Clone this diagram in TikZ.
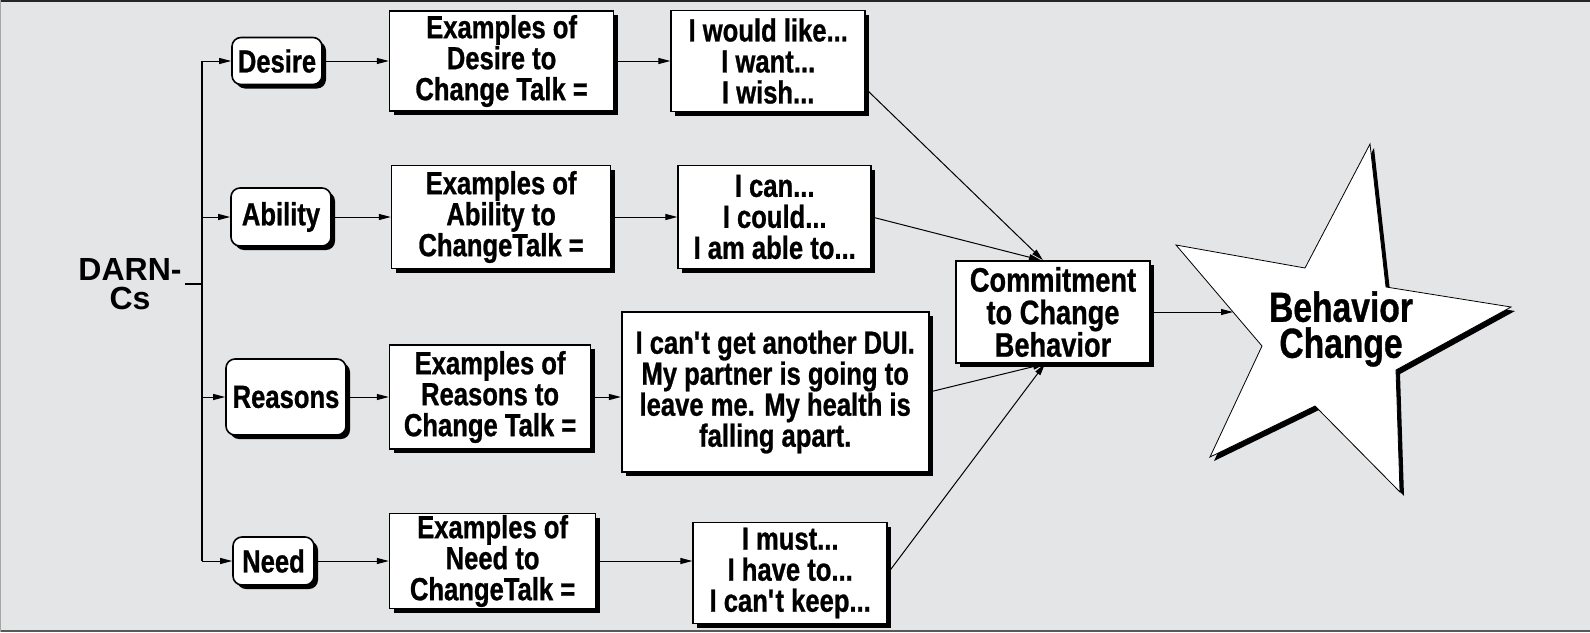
\documentclass[tikz,border=0pt]{standalone}
\usepackage{fontspec}
\setmainfont{Liberation Sans}[FakeStretch=0.8,BoldFeatures={FakeBold=0.8}]
\newfontfamily\darnfont{Liberation Sans}
\usetikzlibrary{positioning,shadows,arrows.meta}
\definecolor{panel}{HTML}{E4E5E7}
\tikzset{
  card/.style={rectangle,draw,line width=1.6pt,fill=white,align=center,inner sep=0pt,
    font=\fontsize{32}{31}\selectfont\bfseries,
    drop shadow={shadow xshift=4pt,shadow yshift=-4pt,fill=black,opacity=1}},
  kind/.style={card,rounded corners=9pt},
  link/.style={-{Triangle[length=12pt,width=6pt]},line width=1pt},
}

\begin{document}
\begin{tikzpicture}[x=1pt,y=-1pt]
      % panel
      \fill[panel] (0,0) rectangle (1590,632);
      \useasboundingbox (0,0) rectangle (1590,632);
      \draw[line width=2.5pt,black!85] (0,1.2) -- (1590,1.2);
      \draw[line width=2pt,black!65] (0,631) -- (1590,631);
      \draw[line width=1pt,black!35] (0.5,0) -- (0.5,632);
      % DARN-Cs
      \node[font=\darnfont\fontsize{32}{29}\selectfont\bfseries,align=center] (darn) at (130,284) {DARN-\\Cs};
      \coordinate (fork) at (202,289);
      % Desire
      \node[kind,minimum width=90pt,minimum height=47pt] (desire) at (277,61) {Desire};
      \node[card,right=66pt of desire,minimum width=224pt,minimum height=100pt] (exdesire) {Examples of\\Desire to\\Change Talk =};
      \node[card,right=56pt of exdesire,minimum width=194pt,minimum height=101pt] (saydesire) {I would like...\\I want...\\I wish...};
      % Ability
      \node[kind,minimum width=100pt,minimum height=58pt] (ability) at (281,217) {Ability};
      \node[card,right=59pt of ability,minimum width=219pt,minimum height=103pt] (exability) {Examples of\\Ability to\\ChangeTalk =};
      \node[card,right=66pt of exability,minimum width=193pt,minimum height=103pt] (sayability) {I can...\\I could...\\I am able to...};
      % Reasons
      \node[kind,minimum width=120pt,minimum height=76pt] (reasons) at (286,397) {Reasons};
      \node[card,right=42pt of reasons,minimum width=201pt,minimum height=104pt] (exreasons) {Examples of\\Reasons to\\Change Talk =};
      \node[card,right=29.5pt of exreasons,yshift=5pt,minimum width=307pt,minimum height=160pt] (sayreasons) {I can\textquotesingle t get another DUI.\\My partner is going to\\leave me. My health is\\falling apart.};
      % Need
      \node[kind,minimum width=81pt,minimum height=48pt] (need) at (273.5,561) {Need};
      \node[card,right=74pt of need,minimum width=206pt,minimum height=95pt] (exneed) {Examples of\\Need to\\ChangeTalk =};
      \node[card,right=96pt of exneed,yshift=-12pt,minimum width=194pt,minimum height=101pt] (sayneed) {I must...\\I have to...\\I can\textquotesingle t keep...};
      % Commitment
      \node[card,minimum width=194pt,minimum height=102pt,font=\fontsize{34}{32.5}\selectfont\bfseries] (commit) at (1053,312) {Commitment\\to Change\\Behavior};
      % Behavior Change star
      \filldraw[fill=white,draw=black,line width=0.8pt,
        drop shadow={shadow xshift=4pt,shadow yshift=-4pt,fill=black,opacity=1}]
        (1370,144) -- (1386,287) -- (1511,307) -- (1396,370) -- (1400,492) -- (1315,406)
        -- (1210,457) -- (1262,346) -- (1176,245) -- (1305,268) -- cycle;
      \node[font=\fontsize{42}{36}\selectfont\bfseries,align=center] (behavior) at (1341,329) {Behavior\\Change};
      \coordinate (starin) at (1233,312);
      % trunk and branches
      \draw[line width=1.5pt] (darn.east) -- (darn.east -| fork);
      \draw[line width=1.5pt] (fork |- desire) -- (fork |- need);
      \draw[link] (fork |- desire) -- (desire.west);
      \draw[link] (fork |- ability) -- (ability.west);
      \draw[link] (fork |- reasons) -- (reasons.west);
      \draw[link] (fork |- need) -- (need.west);
      % examples
      \draw[link] (desire.east) -- (desire.east -| exdesire.west);
      \draw[link] (ability.east) -- (ability.east -| exability.west);
      \draw[link] (reasons.east) -- (reasons.east -| exreasons.west);
      \draw[link] (need.east) -- (need.east -| exneed.west);
      \draw[link] (exdesire.east) -- (exdesire.east -| saydesire.west);
      \draw[link] (exability.east) -- (exability.east -| sayability.west);
      \draw[link] (exreasons.east) -- (exreasons.east -| sayreasons.west);
      \draw[link] (exneed.east) -- (exneed.east -| sayneed.west);
      % into commitment
      \draw[link] (saydesire.-16) -- ([xshift=-10pt]commit.north);
      \draw[link] (sayability.east) -- ([xshift=-12pt]commit.north);
      \draw[link] (sayreasons.east) -- ([xshift=-8pt]commit.south);
      \draw[link] (sayneed.east) -- ([xshift=-8pt]commit.south);
      \draw[link] (commit.east) -- (commit.east -| starin);
\end{tikzpicture}
\end{document}
